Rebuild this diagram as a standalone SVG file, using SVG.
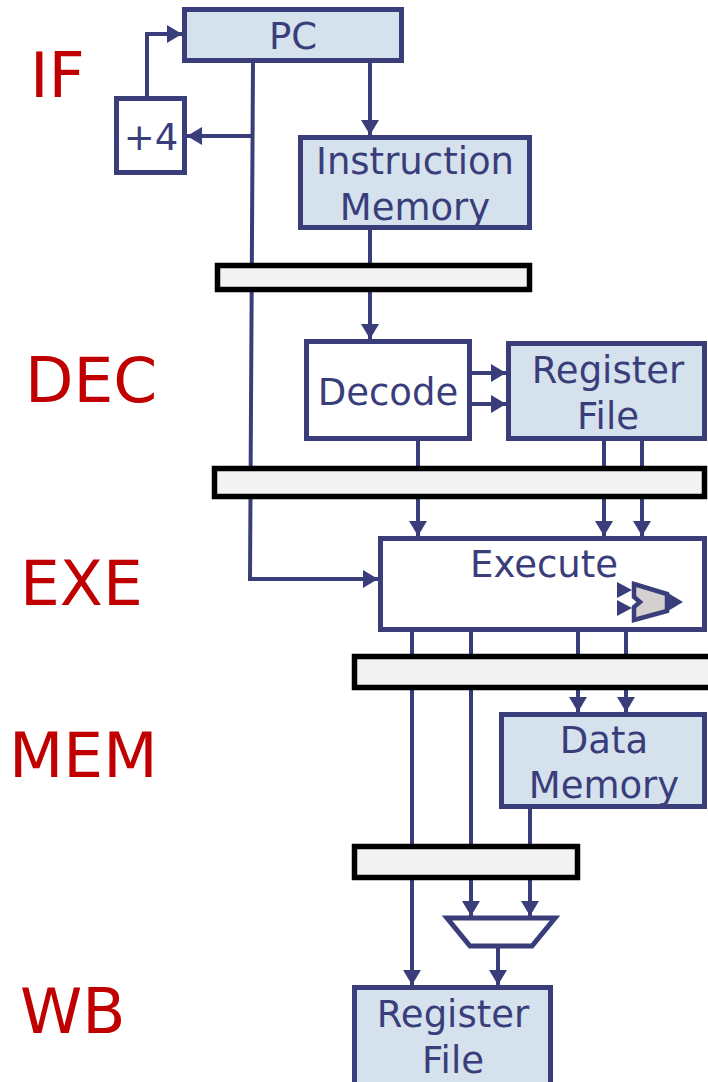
<svg xmlns="http://www.w3.org/2000/svg" width="708" height="1082" viewBox="0 0 708 1082">
  <style>
    .box { stroke: #393e7b; stroke-width: 5; }
    .blue { fill: #d5e1ec; }
    .white { fill: #ffffff; }
    .reg { fill: #f2f2f2; stroke: #000000; stroke-width: 5.5; }
    .lbl { font-family: "DejaVu Sans", Verdana, sans-serif; font-size: 37px; fill: #393e7b; text-anchor: middle; }
    .stage { font-family: "DejaVu Sans", Verdana, sans-serif; font-size: 63px; fill: #c00000; }
    .wire { fill: none; stroke: #393e7b; stroke-width: 4; }
    .arr { marker-end: url(#head); }
  </style>
  <defs>
    <marker id="head" markerUnits="userSpaceOnUse" markerWidth="16" markerHeight="18" refX="15" refY="9" orient="auto">
      <path d="M0,0 L15,9 L0,18 z" fill="#393e7b"/>
    </marker>
  </defs>

  <rect width="708" height="1082" fill="#ffffff"/>

  <!-- stage labels -->
  <g id="stages">
    <text class="stage" x="30" y="97">IF</text>
    <text class="stage" x="25" y="402">DEC</text>
    <text class="stage" x="20" y="605">EXE</text>
    <text class="stage" x="9" y="777">MEM</text>
    <text class="stage" x="20" y="1033">WB</text>
  </g>

  <!-- wires -->
  <g id="connectors">
    <path class="wire arr" d="M147,96 V34 H182"/>
    <path class="wire arr" d="M253,62 L250,579 H378"/>
    <path class="wire arr" d="M251,136 H187"/>
    <path class="wire arr" d="M370,62 V135"/>
    <path class="wire arr" d="M370,230 V339"/>
    <path class="wire arr" d="M472,373 H506"/>
    <path class="wire arr" d="M472,404 H506"/>
    <path class="wire arr" d="M418,441 V536"/>
    <path class="wire arr" d="M604,441 V536"/>
    <path class="wire arr" d="M642,441 V536"/>
    <path class="wire arr" d="M412,632 V985"/>
    <path class="wire arr" d="M471,632 V916"/>
    <path class="wire arr" d="M578,632 V712"/>
    <path class="wire arr" d="M626,632 V712"/>
    <path class="wire arr" d="M530,809 V916"/>
    <path class="wire arr" d="M498,947 V985"/>
  </g>

  <!-- pipeline registers -->
  <g id="reg-if-dec"><rect class="reg" x="217.5" y="265.5" width="312" height="24"/></g>
  <g id="reg-dec-exe"><rect class="reg" x="214.5" y="468.5" width="490" height="28"/></g>
  <g id="reg-exe-mem"><rect class="reg" x="354.5" y="656.5" width="370" height="31"/></g>
  <g id="reg-mem-wb"><rect class="reg" x="354.5" y="846.5" width="223" height="31"/></g>

  <g id="pc">
    <rect class="box blue" x="184.5" y="9.5" width="217" height="51"/>
    <text class="lbl" x="293" y="49">PC</text>
  </g>

  <g id="plus4">
    <rect class="box white" x="116.5" y="98.5" width="68" height="74"/>
    <text class="lbl" x="151" y="150">+4</text>
  </g>

  <g id="imem">
    <rect class="box blue" x="300.5" y="137.5" width="229" height="90"/>
    <text class="lbl" x="415" y="174">Instruction</text>
    <text class="lbl" x="415" y="220">Memory</text>
  </g>

  <g id="decode">
    <rect class="box white" x="306.5" y="341.5" width="163" height="97"/>
    <text class="lbl" x="388" y="405">Decode</text>
  </g>

  <g id="regfile-read">
    <rect class="box blue" x="508.5" y="343.5" width="196" height="95"/>
    <text class="lbl" x="608" y="383">Register</text>
    <text class="lbl" x="608" y="429">File</text>
  </g>

  <g id="execute">
    <rect class="box white" x="380.5" y="538.5" width="324" height="91"/>
    <text class="lbl" x="544" y="577">Execute</text>
    <!-- ALU symbol -->
    <path d="M617,582 L632,590 L617,598 z M617,600 L632,608 L617,616 z M668,593 L683,602 L668,611 z" fill="#393e7b"/>
    <polygon points="634,584 667,594 667,611 634,620 634,607 640,602 634,597" fill="#d4d0d0" stroke="#393e7b" stroke-width="4.5" stroke-linejoin="miter"/>
  </g>

  <g id="dmem">
    <rect class="box blue" x="501.5" y="714.5" width="203" height="92"/>
    <text class="lbl" x="604" y="753">Data</text>
    <text class="lbl" x="604" y="798">Memory</text>
  </g>

  <g id="wb-mux">
    <polygon class="box white" points="447,918 555,918 532,946 470,946"/>
  </g>

  <g id="regfile-write">
    <rect class="box blue" x="354.5" y="987.5" width="196" height="110"/>
    <text class="lbl" x="453" y="1027">Register</text>
    <text class="lbl" x="453" y="1073">File</text>
  </g>
</svg>
